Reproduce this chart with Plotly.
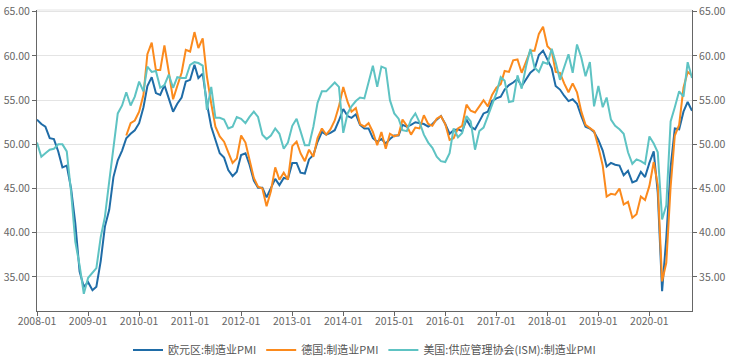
import pandas as pd
import plotly.graph_objects as go

months = pd.date_range("2008-01-01", periods=155, freq="MS")

euro_pmi = [
    52.8, 52.3, 52.0, 50.7, 50.6, 49.2, 47.4, 47.6, 45.0, 41.1, 35.6, 33.9,
    34.4, 33.5, 33.9, 36.8, 40.7, 42.6, 46.3, 48.2, 49.3, 50.7, 51.2, 51.6,
    52.4, 54.2, 56.6, 57.6, 55.8, 55.6, 56.7, 55.1, 53.7, 54.6, 55.3, 57.1,
    57.3, 59.0, 57.5, 58.0, 54.6, 52.0, 50.4, 49.0, 48.5, 47.1, 46.4, 46.9,
    48.8, 49.0, 47.7, 45.9, 45.1, 45.1, 44.0, 45.1, 46.1, 45.4, 46.2, 46.1,
    47.9, 47.9, 46.8, 46.7, 48.3, 48.8, 50.3, 51.4, 51.1, 51.3, 51.6, 52.7,
    54.0, 53.2, 53.0, 53.4, 52.2, 51.8, 51.8, 50.7, 50.3, 50.6, 50.1, 50.6,
    51.0, 51.0, 52.2, 52.0, 52.2, 52.5, 52.4, 52.3, 52.0, 52.3, 52.8, 53.2,
    52.3, 51.2, 51.6, 51.7, 51.5, 52.8, 52.0, 51.7, 52.6, 53.5, 53.7, 54.9,
    55.2, 55.4, 56.2, 56.7, 57.0, 57.4, 56.6, 57.4, 58.1, 58.5, 60.1, 60.6,
    59.6, 58.6, 56.6, 56.2, 55.5, 54.9, 55.1, 54.6, 53.2, 52.0, 51.8, 51.4,
    50.5, 49.3, 47.5, 47.9, 47.7, 47.6, 46.5, 47.0, 45.7, 45.9, 46.9, 46.3,
    47.9, 49.2, 44.5, 33.4, 39.4, 47.4, 51.8, 51.7, 53.7, 54.8, 53.8,
]

germany_pmi = [None] * 21 + [
    51.0, 52.4, 52.7,
    53.7, 55.6, 60.2, 61.5, 58.4, 58.4, 61.2, 58.2, 55.1, 56.6, 58.1, 60.7,
    60.5, 62.7, 60.9, 62.0, 57.7, 54.6, 52.0, 50.9, 50.3, 49.1, 47.9, 48.4,
    51.0, 50.2, 48.4, 46.2, 45.2, 45.0, 43.0, 44.7, 47.4, 46.0, 46.8, 46.0,
    49.8, 50.3, 49.0, 48.1, 49.4, 48.6, 50.7, 51.8, 51.1, 51.7, 52.7, 54.3,
    56.5, 54.8, 53.7, 54.1, 52.3, 52.0, 52.4, 51.4, 49.9, 51.4, 49.5, 51.2,
    50.9, 51.1, 52.8, 52.1, 51.1, 51.9, 51.8, 53.3, 52.3, 52.1, 52.9, 53.2,
    52.3, 50.5, 50.7, 51.8, 52.1, 54.5, 53.8, 53.6, 54.3, 55.0, 54.3, 55.6,
    56.4, 56.8, 58.3, 58.2, 59.5, 59.6, 58.1, 59.3, 60.6, 60.6, 62.5, 63.3,
    61.1, 60.6, 58.2, 58.1, 56.9, 55.9, 56.9, 55.9, 53.7, 52.2, 51.8, 51.5,
    49.7, 47.6, 44.1, 44.4, 44.3, 45.0, 43.2, 43.5, 41.7, 42.1, 44.1, 43.7,
    45.3, 48.0, 45.4, 34.5, 36.6, 45.2, 51.0, 52.2, 56.4, 58.2, 57.8,
]

us_ism_pmi = [
    50.2, 48.6, 49.0, 49.4, 49.5, 50.0, 50.0, 49.2, 44.6, 39.0, 36.3, 33.1,
    34.9, 35.5, 36.0, 39.5, 41.8, 45.8, 49.9, 53.5, 54.4, 55.9, 54.4, 55.4,
    57.1, 56.0, 58.8, 58.2, 58.3, 56.4, 56.7, 57.9, 56.4, 57.6, 57.5, 57.5,
    59.0, 59.3, 59.2, 58.9, 53.9, 56.5, 53.0, 53.0, 52.8, 51.8, 52.0, 53.1,
    52.9, 52.4, 53.1, 53.7, 53.1, 51.1, 50.6, 51.0, 51.8, 51.2, 49.5, 50.2,
    52.1, 52.9, 51.5, 49.9, 49.9, 52.0, 54.7, 56.0, 56.0, 56.5, 57.0, 56.5,
    51.3, 53.5, 54.3, 54.9, 55.3, 55.2, 57.0, 58.9, 56.5, 58.8, 58.6, 55.0,
    53.5, 52.9, 51.6, 51.5, 52.8, 53.5, 52.5, 51.1, 50.2, 49.6, 48.6, 48.1,
    48.0, 49.0, 51.8, 50.8, 51.3, 53.2, 52.6, 49.4, 51.5, 51.9, 53.2, 54.5,
    55.8, 57.6, 57.2, 54.8, 54.9, 57.8, 56.3, 58.8, 60.8, 58.7, 58.2, 59.3,
    59.1, 60.8, 59.3, 57.3, 58.7, 60.2, 58.1, 61.3, 59.8, 57.7, 59.3, 54.3,
    56.6, 54.2, 55.3, 52.8, 52.1, 51.7, 51.2, 49.1, 47.8, 48.3, 48.1, 47.8,
    50.9, 50.1, 49.1, 41.5, 43.1, 52.6, 54.2, 56.0, 55.4, 59.3, 57.5,
]

series_names = ["欧元区:制造业PMI", "德国:制造业PMI", "美国:供应管理协会(ISM):制造业PMI"]
series_values = [euro_pmi, germany_pmi, us_ism_pmi]
series_colors = ["#1f6ca7", "#fb8a1d", "#5ec3c3"]

y_ticks = [35, 40, 45, 50, 55, 60, 65]
y_tick_text = ["35.00", "40.00", "45.00", "50.00", "55.00", "60.00", "65.00"]
y_range = [31.15, 65.2]

font_family = "Noto Sans CJK SC, Noto Sans, sans-serif"
axis_color = "#666666"
tick_font = dict(family=font_family, size=10.5, color=axis_color)

fig = go.Figure()
for name, vals, col in zip(series_names, series_values, series_colors):
    fig.add_trace(go.Scatter(
        x=months, y=vals, name=name, mode="lines",
        line=dict(color=col, width=2), connectgaps=False,
    ))

# invisible trace to activate the right axis
fig.add_trace(go.Scatter(x=months, y=euro_pmi, yaxis="y2", mode="lines",
                         line=dict(width=0), showlegend=False, hoverinfo="skip",
                         opacity=0))

yaxis_common = dict(
    range=y_range, tickmode="array", tickvals=y_ticks, ticktext=y_tick_text,
    showline=True, linecolor=axis_color, linewidth=1,
    ticks="outside", ticklen=4, tickcolor=axis_color,
    zeroline=False, automargin=False, tickfont=tick_font,
)

fig.update_layout(
    width=732, height=362, autosize=False,
    margin=dict(l=37, r=40, t=10, b=51),
    paper_bgcolor="white", plot_bgcolor="white",
    font=dict(family=font_family, size=11, color=axis_color),
    xaxis=dict(
        range=[months[0], months[-1]],
        tickformat="%Y-%m", dtick="M12", tick0="2008-01-01",
        showline=True, linecolor=axis_color, linewidth=1,
        ticks="outside", ticklen=4, tickcolor=axis_color,
        ticklabelstandoff=-4,
        showgrid=False, zeroline=False, automargin=False,
        tickfont=tick_font,
    ),
    yaxis=dict(showgrid=True, gridcolor="#e4e4e4", gridwidth=1, **yaxis_common),
    yaxis2=dict(overlaying="y", side="right", showgrid=False, **yaxis_common),
    legend=dict(
        orientation="h", x=0.5, xanchor="center",
        yref="container", y=0.033, yanchor="middle",
        font=dict(family=font_family, size=11, color="#555555"), itemwidth=30,
        bgcolor="rgba(0,0,0,0)",
    ),
    showlegend=True,
)

fig.add_shape(type="line", xref="paper", yref="paper", x0=0, x1=1, y0=1, y1=1,
              line=dict(color="#e4e4e4", width=1))

fig.write_html(
    "out.html",
    config={"responsive": False, "displayModeBar": False},
    post_script="document.body.style.margin='0';document.body.style.padding='0';"
                "document.documentElement.style.overflow='hidden';",
)
